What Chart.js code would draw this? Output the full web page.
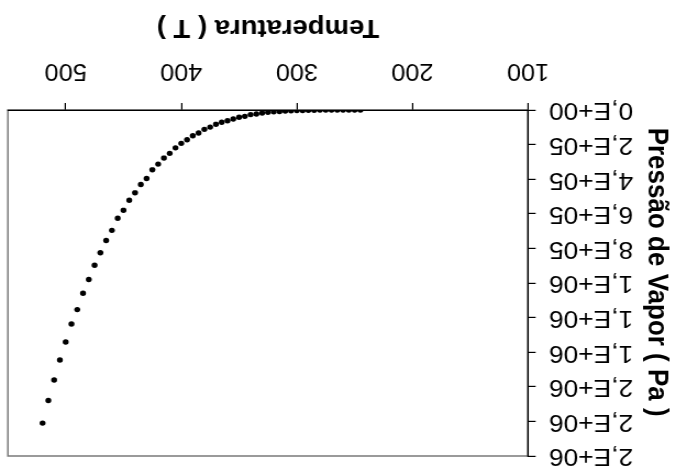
<!DOCTYPE html>
<html>
<head>
<meta charset="utf-8">
<script src="https://cdn.jsdelivr.net/npm/chart.js@4/dist/chart.umd.min.js"></script>
<style>
  html, body { margin: 0; padding: 0; background: #fff; overflow: hidden; }
  #frame {
    position: absolute; left: 0; top: 0;
    width: 614px; height: 472px;
    transform-origin: 0 0;
    /* the sheet is printed turned half a turn, slightly widened */
    transform: translate(675px, 472px) scale(-1.0993, -1);
  }
</style>
</head>
<body>
<div id="frame"><canvas id="chart"></canvas></div>
<script>
// Temperatura (T) and vapour pressure (Pa)
const temperatures = [245, 250, 255, 260, 265, 270, 275, 280, 285, 290,
  295, 300, 305, 310, 315, 320, 325, 330, 335, 340,
  345, 350, 355, 360, 365, 370, 375, 380, 385, 390,
  395, 400, 405, 410, 415, 420, 425, 430, 435, 440,
  445, 450, 455, 460, 465, 470, 475, 480, 485, 490,
  495, 500, 505, 510, 515, 520];
const pressures = [60, 100, 150, 200, 300, 500, 700, 1000, 1500, 2000,
  2800, 3800, 5000, 6500, 8500, 11000, 14000, 18000, 23000, 27000,
  37000, 42000, 52000, 62000, 71000, 83000, 99000, 112000, 133000, 149000,
  172000, 193000, 219000, 251000, 278000, 313000, 346000, 396000, 431000, 479000,
  522000, 580000, 626000, 696000, 754000, 825000, 897000, 980000, 1059000, 1154000,
  1237000, 1341000, 1445000, 1561000, 1679000, 1810000];
const xTickValues = [100, 200, 300, 400, 500];
const yTickLabels = ['0,E+00', '2,E+05', '4,E+05', '6,E+05', '8,E+05', '1,E+06',
  '1,E+06', '1,E+06', '2,E+06', '2,E+06', '2,E+06'];

const FONT = '"Liberation Sans", Arial, Helvetica, sans-serif';

const plotFrame = {
  id: 'plotFrame',
  beforeDraw(chart) {
    const { ctx, chartArea: a } = chart;
    ctx.save();
    ctx.fillStyle = '#fff';
    ctx.fillRect(0, 0, chart.width, chart.height);
    ctx.strokeStyle = '#7a7a7a';
    ctx.lineWidth = 1.5;
    ctx.strokeRect(a.left, a.top, a.right - a.left, a.bottom - a.top);
    ctx.restore();
  }
};

new Chart(document.getElementById('chart'), {
  type: 'scatter',
  data: {
    datasets: [{
      data: temperatures.map((t, i) => ({ x: t, y: pressures[i] })),
      backgroundColor: '#000',
      borderColor: '#000',
      pointRadius: 2.7,
      pointHoverRadius: 2.7,
      borderWidth: 0
    }]
  },
  options: {
    animation: false,
    responsive: true,
    maintainAspectRatio: false,
    layout: { padding: { top: 16, right: 7.2, left: 0, bottom: 0 } },
    plugins: { legend: { display: false }, tooltip: { enabled: false } },
    scales: {
      x: {
        type: 'linear',
        min: 100,
        max: 550,
        afterBuildTicks(scale) { scale.ticks = xTickValues.map(v => ({ value: v })); },
        afterFit(scale) {
          scale.height = 110;
          scale.paddingLeft = 0;
          scale.paddingRight = 0;
        },
        grid: { drawOnChartArea: false, drawTicks: true, tickLength: 7, color: '#000', lineWidth: 1.2 },
        border: { display: true, color: '#000', width: 1.3 },
        ticks: {
          color: '#000', padding: 19, maxRotation: 0,
          font: { family: FONT, size: 23 },
          callback: v => String(v)
        },
        title: {
          display: true, text: 'Temperatura ( T )', color: '#000',
          padding: { top: 0, bottom: 12 },
          font: { family: FONT, size: 25, weight: 'bold' }
        }
      },
      y: {
        type: 'linear',
        min: 0,
        max: 2000000,
        ticks: {
          stepSize: 200000, color: '#000', padding: 12,
          font: { family: FONT, size: 24 },
          callback: (v, i) => yTickLabels[i]
        },
        afterFit(scale) {
          scale.width = 133.7;
          scale.paddingTop = 0;
          scale.paddingBottom = 0;
        },
        grid: { drawOnChartArea: false, drawTicks: true, tickLength: 7, color: '#000', lineWidth: 1.2 },
        border: { display: true, color: '#000', width: 1.3 },
        title: {
          display: true, text: 'Pressão de Vapor ( Pa )   ', color: '#000',
          padding: { top: 1, bottom: 0 },
          font: { family: FONT, size: 26, weight: 'bold' }
        }
      }
    }
  },
  plugins: [plotFrame]
});
</script>
</body>
</html>
